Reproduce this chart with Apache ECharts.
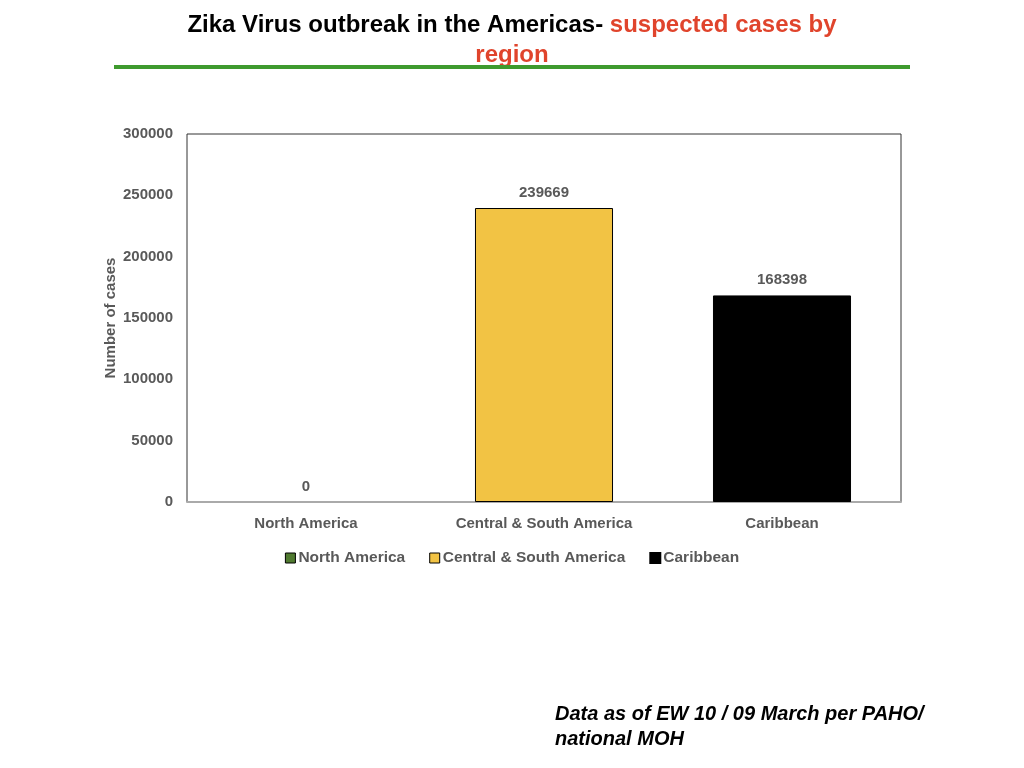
<!DOCTYPE html>
<html>
<head>
    <meta charset="utf-8">
    <title>Zika Virus outbreak</title>
    <script src="https://cdn.jsdelivr.net/npm/echarts@6/dist/echarts.min.js"></script>
    <style>
        html, body { margin: 0; padding: 0; background: #fff; }
    </style>
</head>
<body>
    <div id="main" style="width: 1024px;height:768px;"></div>
    <script type="text/javascript">
        // data
        var regions = ['North America', 'Central & South America', 'Caribbean'];
        var northAmerica = [0, '-', '-'];
        var centralSouth = ['-', 239669, '-'];
        var caribbean = ['-', '-', 168398];
        var yTicks = { min: 0, max: 300000, interval: 50000 };

        var gray = '#595959';
        var font = 'Liberation Sans, Arial, sans-serif';

        function barSeries(name, data, color, borderWidth) {
            return {
                name: name,
                type: 'bar',
                stack: 'all',
                barCategoryGap: '42%',
                data: data,
                itemStyle: { color: color, borderColor: '#000', borderWidth: borderWidth },
                label: {
                    show: true,
                    position: 'top',
                    distance: 8,
                    color: gray,
                    fontWeight: 'bold',
                    fontSize: 15,
                    fontFamily: font
                }
            };
        }

        var myChart = echarts.init(document.getElementById('main'));
        myChart.setOption({
            animation: false,
            graphic: [
                {
                    type: 'text',
                    x: 512,
                    y: 10,
                    style: {
                        text: '{a|Zika Virus outbreak in the Americas- }{b|suspected cases by}\n{b|region}',
                        align: 'center',
                        verticalAlign: 'top',
                        rich: {
                            a: { fontSize: 24, fontWeight: 'bold', fill: '#000', fontFamily: font, lineHeight: 30 },
                            b: { fontSize: 24, fontWeight: 'bold', fill: '#E0442C', fontFamily: font, lineHeight: 30 }
                        }
                    }
                },
                {
                    type: 'rect',
                    shape: { x: 114, y: 65, width: 796, height: 4 },
                    style: { fill: '#3E9A2E' }
                },
                {
                    type: 'text',
                    left: 555,
                    top: 702,
                    style: {
                        text: 'Data as of EW 10 / 09 March per PAHO/\nnational MOH',
                        fontSize: 20,
                        fontWeight: 'bold',
                        fontStyle: 'italic',
                        fontFamily: font,
                        lineHeight: 25,
                        fill: '#000'
                    }
                }
            ],
            legend: {
                top: 545,
                left: 'center',
                itemWidth: 10,
                itemHeight: 10,
                itemGap: 24,
                icon: 'rect',
                textStyle: { color: gray, fontWeight: 'bold', fontSize: 15.5, fontFamily: font, padding: [0, 0, 0, -2] },
                data: [
                    { name: 'North America', itemStyle: { color: '#507A30', borderColor: '#000', borderWidth: 1 } },
                    { name: 'Central & South America', itemStyle: { borderColor: '#000', borderWidth: 1 } },
                    { name: 'Caribbean' }
                ]
            },
            grid: {
                left: 187,
                right: 123,
                top: 134,
                bottom: 266,
                show: true,
                borderColor: '#333',
                borderWidth: 1
            },
            xAxis: {
                type: 'category',
                data: regions,
                axisLine: { lineStyle: { color: '#aaa', width: 2 } },
                axisTick: { show: false },
                axisLabel: { color: gray, fontWeight: 'bold', fontSize: 15, fontFamily: font, margin: 14 }
            },
            yAxis: {
                type: 'value',
                min: yTicks.min,
                max: yTicks.max,
                interval: yTicks.interval,
                name: 'Number of cases',
                nameLocation: 'middle',
                nameGap: 69,
                nameMoveOverlap: false,
                nameTextStyle: { color: gray, fontWeight: 'bold', fontSize: 15, fontFamily: font },
                splitLine: { show: false },
                axisLine: { show: false },
                axisTick: { show: false },
                axisLabel: {
                    color: gray, fontWeight: 'bold', fontSize: 15, fontFamily: font, margin: 14,
                    formatter: function (v) { return String(v); }
                }
            },
            series: [
                barSeries('North America', northAmerica, '#507A30', 0),
                barSeries('Central & South America', centralSouth, '#F2C344', 1),
                barSeries('Caribbean', caribbean, '#000', 1)
            ]
        });
    </script>
</body>
</html>
